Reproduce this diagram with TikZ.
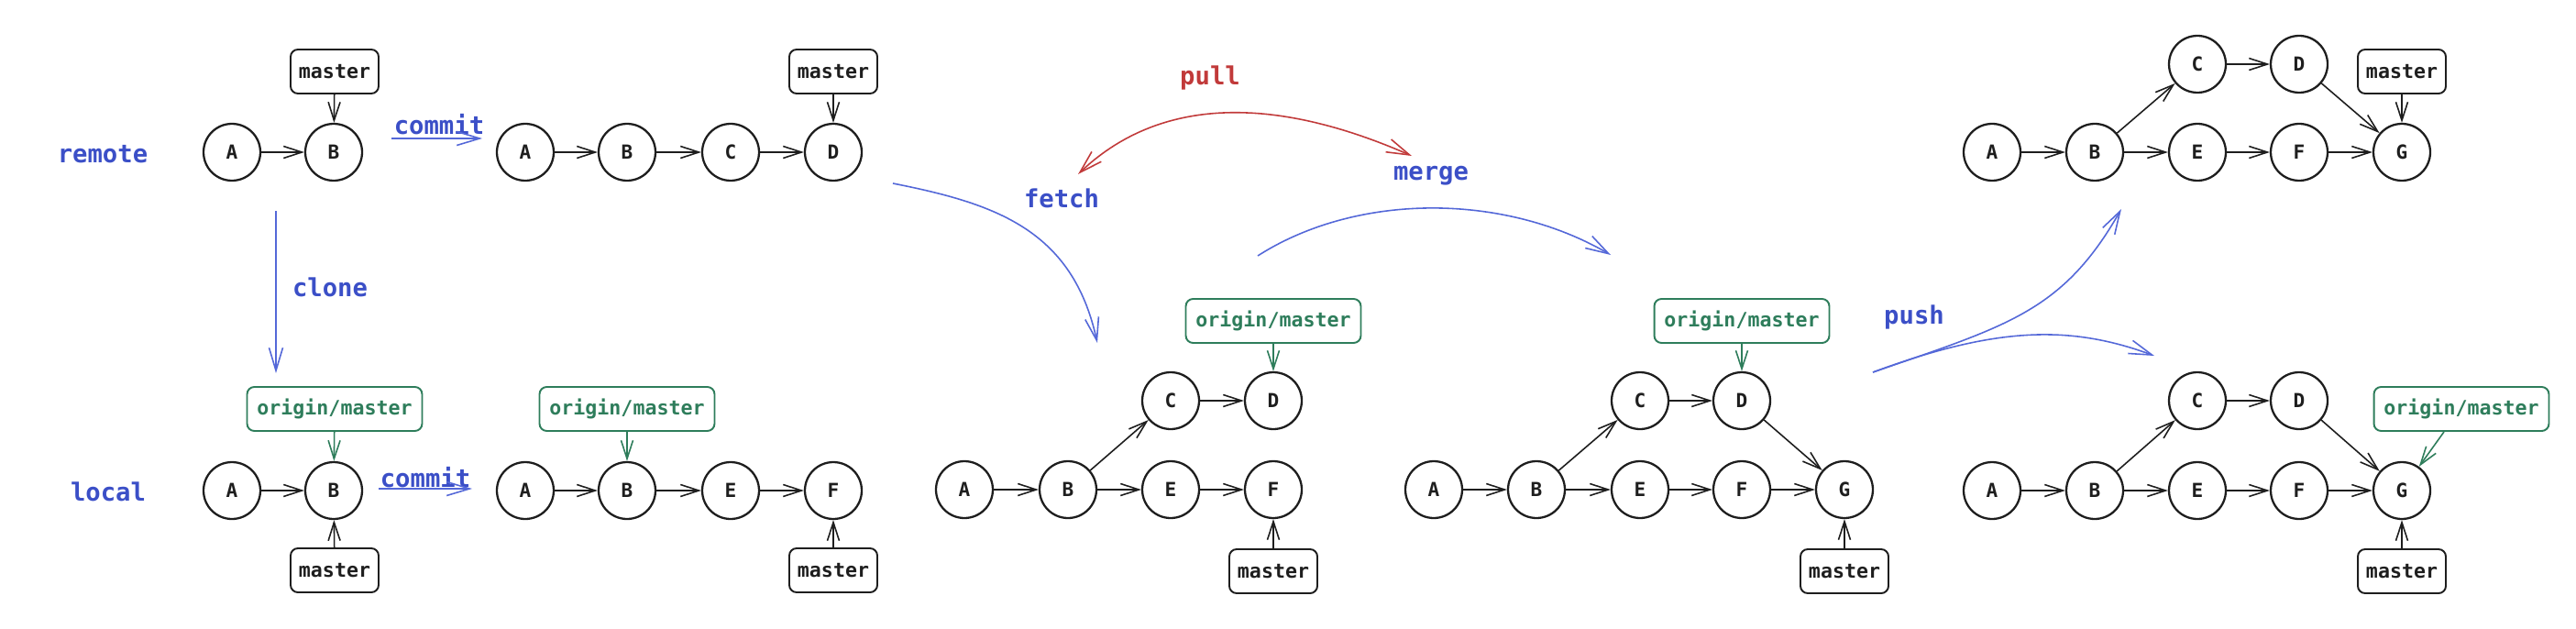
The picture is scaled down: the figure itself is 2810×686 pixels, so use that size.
\documentclass[tikz,border=0pt]{standalone}
\usepackage{fontspec}
\setmonofont{DejaVu Sans Mono}
\usetikzlibrary{arrows.meta}
\definecolor{ink}{HTML}{1E1E1E}
\definecolor{opblue}{HTML}{3B4FC7}
\definecolor{arrblue}{HTML}{5468D8}
\definecolor{pullred}{HTML}{C13A3A}
\definecolor{origreen}{HTML}{2E7D5B}

\begin{document}
\begin{tikzpicture}[x=0.02cm, y=-0.02cm,
  cmt/.style={circle, draw=ink, line width=1.3pt, minimum size=1.24cm, inner sep=0pt, text=ink, font=\ttfamily\bfseries\fontsize{12}{14}\selectfont},
  mbox/.style={draw=ink, line width=1.1pt, rounded corners=4.5pt, minimum width=1.92cm, minimum height=0.96cm, inner sep=0pt, text=ink, font=\ttfamily\bfseries\fontsize{12.3}{14}\selectfont},
  obox/.style={draw=origreen, line width=1.1pt, rounded corners=4.5pt, minimum width=3.82cm, minimum height=0.96cm, inner sep=0pt, text=origreen, font=\ttfamily\bfseries\fontsize{12.3}{14}\selectfont},
  lbl/.style={text=opblue, font=\ttfamily\bfseries\fontsize{15.5}{18}\selectfont},
  link/.style={draw=ink, line width=0.9pt, -{Straight Barb[length=4mm, width=2.6mm]}},
  olink/.style={draw=origreen, line width=0.9pt, -{Straight Barb[length=4mm, width=2.6mm]}},
  oparr/.style={draw=arrblue, line width=0.9pt, -{Straight Barb[length=5mm, width=3mm]}}]
  \useasboundingbox (0,0) rectangle (2810,686);

  % labels
  \node[lbl] (remote) at (112,168) {remote};
  \node[lbl] (local) at (118,536) {local};
  \node[lbl] (cm1) at (479,136) {commit};
  \node[lbl] (cm2) at (464,521) {commit};
  \node[lbl] (clone) at (360,313) {clone};
  \node[lbl, text=pullred] (pull) at (1320,85) {pull};
  \node[lbl] (fetch) at (1158,216) {fetch};
  \node[lbl] (merge) at (1561,192) {merge};
  \node[lbl] (push) at (2088,346) {push};

  % remote, before
  \node[cmt] (g1a) at (253,166) {A};
  \node[cmt] (g1b) at (364,166) {B};
  \node[mbox] (g1m) at (365,78) {master};
  \draw[link] (g1a) -- (g1b);
  \draw[link] (g1m) -- (g1b);

  % remote, after commit
  \node[cmt] (g2a) at (573,166) {A};
  \node[cmt] (g2b) at (684,166) {B};
  \node[cmt] (g2c) at (797,166) {C};
  \node[cmt] (g2d) at (909,166) {D};
  \node[mbox] (g2m) at (909,78) {master};
  \draw[link] (g2a) -- (g2b);
  \draw[link] (g2b) -- (g2c);
  \draw[link] (g2c) -- (g2d);
  \draw[link] (g2m) -- (g2d);

  % local, after clone
  \node[cmt] (g3a) at (253,535) {A};
  \node[cmt] (g3b) at (364,535) {B};
  \node[obox] (g3o) at (365,446) {origin/master};
  \node[mbox] (g3m) at (365,622) {master};
  \draw[link] (g3a) -- (g3b);
  \draw[olink] (g3o) -- (g3b);
  \draw[link] (g3m) -- (g3b);

  % local, after commit
  \node[cmt] (g4a) at (573,535) {A};
  \node[cmt] (g4b) at (684,535) {B};
  \node[cmt] (g4e) at (797,535) {E};
  \node[cmt] (g4f) at (909,535) {F};
  \node[obox] (g4o) at (684,446) {origin/master};
  \node[mbox] (g4m) at (909,622) {master};
  \draw[link] (g4a) -- (g4b);
  \draw[link] (g4b) -- (g4e);
  \draw[link] (g4e) -- (g4f);
  \draw[olink] (g4o) -- (g4b);
  \draw[link] (g4m) -- (g4f);

  % local, after fetch
  \node[cmt] (g5a) at (1052,534) {A};
  \node[cmt] (g5b) at (1165,534) {B};
  \node[cmt] (g5e) at (1277,534) {E};
  \node[cmt] (g5f) at (1389,534) {F};
  \node[cmt] (g5c) at (1277,437) {C};
  \node[cmt] (g5d) at (1389,437) {D};
  \node[obox] (g5o) at (1389,350) {origin/master};
  \node[mbox] (g5m) at (1389,623) {master};
  \draw[link] (g5a) -- (g5b);
  \draw[link] (g5b) -- (g5e);
  \draw[link] (g5e) -- (g5f);
  \draw[link] (g5b) -- (g5c);
  \draw[link] (g5c) -- (g5d);
  \draw[olink] (g5o) -- (g5d);
  \draw[link] (g5m) -- (g5f);

  % local, after merge
  \node[cmt] (g6a) at (1564,534) {A};
  \node[cmt] (g6b) at (1676,534) {B};
  \node[cmt] (g6e) at (1789,534) {E};
  \node[cmt] (g6f) at (1900,534) {F};
  \node[cmt] (g6g) at (2012,534) {G};
  \node[cmt] (g6c) at (1789,437) {C};
  \node[cmt] (g6d) at (1900,437) {D};
  \node[obox] (g6o) at (1900,350) {origin/master};
  \node[mbox] (g6m) at (2012,623) {master};
  \draw[link] (g6a) -- (g6b);
  \draw[link] (g6b) -- (g6e);
  \draw[link] (g6e) -- (g6f);
  \draw[link] (g6f) -- (g6g);
  \draw[link] (g6b) -- (g6c);
  \draw[link] (g6c) -- (g6d);
  \draw[link] (g6d) -- (g6g);
  \draw[olink] (g6o) -- (g6d);
  \draw[link] (g6m) -- (g6g);

  % remote, after push
  \node[cmt] (g7a) at (2173,166) {A};
  \node[cmt] (g7b) at (2285,166) {B};
  \node[cmt] (g7e) at (2397,166) {E};
  \node[cmt] (g7f) at (2508,166) {F};
  \node[cmt] (g7g) at (2620,166) {G};
  \node[cmt] (g7c) at (2397,70) {C};
  \node[cmt] (g7d) at (2508,70) {D};
  \node[mbox] (g7m) at (2620,78) {master};
  \draw[link] (g7a) -- (g7b);
  \draw[link] (g7b) -- (g7e);
  \draw[link] (g7e) -- (g7f);
  \draw[link] (g7f) -- (g7g);
  \draw[link] (g7b) -- (g7c);
  \draw[link] (g7c) -- (g7d);
  \draw[link] (g7d) -- (g7g);
  \draw[link] (g7m) -- (g7g);

  % local, after push
  \node[cmt] (g8a) at (2173,535) {A};
  \node[cmt] (g8b) at (2285,535) {B};
  \node[cmt] (g8e) at (2397,535) {E};
  \node[cmt] (g8f) at (2508,535) {F};
  \node[cmt] (g8g) at (2620,535) {G};
  \node[cmt] (g8c) at (2397,437) {C};
  \node[cmt] (g8d) at (2508,437) {D};
  \node[obox] (g8o) at (2685,446) {origin/master};
  \node[mbox] (g8m) at (2620,623) {master};
  \draw[link] (g8a) -- (g8b);
  \draw[link] (g8b) -- (g8e);
  \draw[link] (g8e) -- (g8f);
  \draw[link] (g8f) -- (g8g);
  \draw[link] (g8b) -- (g8c);
  \draw[link] (g8c) -- (g8d);
  \draw[link] (g8d) -- (g8g);
  \draw[olink] ([xshift=-0.38cm]g8o.south) -- (g8g);
  \draw[link] (g8m) -- (g8g);

  % operation arrows
  \coordinate (cm1s) at (427,151);
  \coordinate (cm1e) at (526,151);
  \coordinate (cm2s) at (413,533);
  \coordinate (cm2e) at (515,533);
  \coordinate (cls) at (301,230);
  \coordinate (cle) at (301,407);
  \coordinate (fts) at (974,200);
  \coordinate (fte) at (1197,374);
  \coordinate (mgs) at (1372,279);
  \coordinate (mge) at (1757,278);
  \coordinate (pls) at (1176,190);
  \coordinate (ple) at (1540,170);
  \coordinate (pss) at (2043,406);
  \coordinate (psu) at (2314,228);
  \coordinate (psd) at (2350,388);
  \draw[oparr] (cm1s) -- (cm1e);
  \draw[oparr] (cm2s) -- (cm2e);
  \draw[oparr] (cls) -- (cle);
  \draw[oparr] (fts) .. controls (1085,222) and (1170,250) .. (fte);
  \draw[oparr] (mgs) .. controls (1480,210) and (1640,210) .. (mge);
  \draw[oparr, draw=pullred, {Straight Barb[length=5mm, width=3mm]}-{Straight Barb[length=5mm, width=3mm]}] (pls) .. controls (1260,110) and (1380,100) .. (ple);
  \draw[oparr] (pss) .. controls (2190,355) and (2250,340) .. (psu);
  \draw[oparr] (pss) .. controls (2180,355) and (2260,355) .. (psd);
\end{tikzpicture}
\end{document}
